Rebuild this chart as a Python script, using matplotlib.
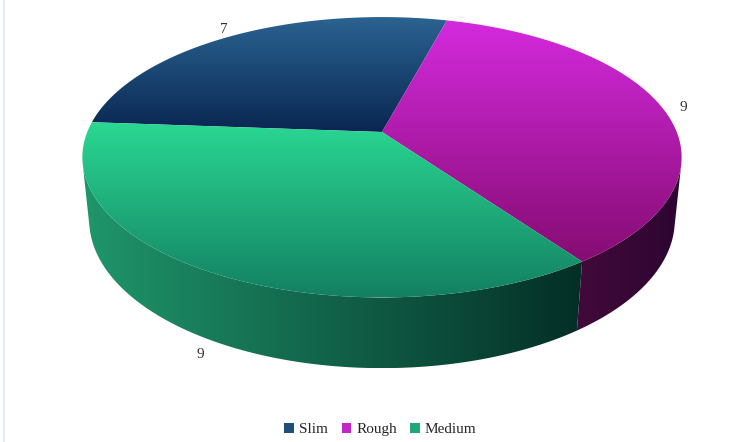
"""3D-looking pie chart of fit types (Slim / Rough / Medium)."""

import matplotlib

matplotlib.use("Agg")
import matplotlib.pyplot as plt
import numpy as np
from matplotlib.colors import to_rgb
from matplotlib.lines import Line2D
from matplotlib.patches import Patch, Polygon

categories = ["Slim", "Rough", "Medium"]
values = [7, 9, 9]
legend_colors = ["#1f4e79", "#c026c8", "#1fa877"]
top_light = ["#2b6391", "#d42ade", "#2ad893"]
top_dark = ["#0a2652", "#860c72", "#138062"]
side_light = ["#12304f", "#420a3a", "#1f966b"]
side_dark = ["#06182c", "#2c0530", "#042e26"]

# view geometry (pixels)
CX, CY = 382, 132
PHI = np.radians(27.4)
DIST = 4.93
FOC = 1453
THICK = 0.242
START = 175.8

SERIF = ["Liberation Serif", "DejaVu Serif"]


def project(theta, r=1.0, y=0.0):
    x3 = r * np.cos(theta)
    z3 = r * np.sin(theta)
    yc = y * np.cos(PHI) + z3 * np.sin(PHI)
    depth = DIST + z3 * np.cos(PHI) - y * np.sin(PHI)
    return CX + FOC * x3 / depth, CY - FOC * yc / depth


def grad_fill(ax, xs, ys, c0, c1, horizontal=False, zorder=1):
    poly = Polygon(np.column_stack([xs, ys]), closed=True,
                   facecolor="none", edgecolor="none")
    ax.add_patch(poly)
    t = np.linspace(0, 1, 256)[:, None]
    c0 = np.array(to_rgb(c0))
    c1 = np.array(to_rgb(c1))
    cols = c0 + (c1 - c0) * t
    img = cols[None, :, :] if horizontal else cols[:, None, :]
    im = ax.imshow(img, extent=(min(xs), max(xs), max(ys), min(ys)),
                   origin="upper", aspect="auto", zorder=zorder,
                   interpolation="bilinear")
    im.set_clip_path(poly)


fig = plt.figure(figsize=(7.49, 4.42), dpi=100)
ax = fig.add_axes([0, 0, 1, 1])

fracs = np.array(values) / sum(values)
bounds = [START]
for f in fracs:
    bounds.append(bounds[-1] - 360 * f)

# visible part of the side wall
lim = np.degrees(np.arcsin(1 / (DIST * np.cos(PHI))))
vis_lo, vis_hi = -180 + lim, -lim

for i in range(len(values)):
    a0, a1 = bounds[i + 1], bounds[i]
    # side wall, check the range shifted by -360 too
    for shift in (0, -360):
        lo = max(a0 + shift, vis_lo)
        hi = min(a1 + shift, vis_hi)
        if hi <= lo:
            continue
        th = np.radians(np.linspace(lo, hi, 120))
        tx, ty = project(th)
        bx, by = project(th, y=-THICK)
        xs = np.concatenate([tx, bx[::-1]])
        ys = np.concatenate([ty, by[::-1]])
        grad_fill(ax, xs, ys, side_light[i], side_dark[i],
                  horizontal=True, zorder=1)

for i in range(len(values)):
    a0, a1 = bounds[i + 1], bounds[i]
    th = np.radians(np.linspace(a0, a1, 200))
    tx, ty = project(th)
    xs = np.concatenate([[CX], tx])
    ys = np.concatenate([[CY], ty])
    grad_fill(ax, xs, ys, top_light[i], top_dark[i], zorder=2)

    mid = np.radians((a0 + a1) / 2)
    lift = 0.0 if np.sin(mid) >= 0 else -THICK
    lx, ly = project(mid, r=1.075, y=lift)
    ax.text(lx, ly, str(values[i]), ha="center", va="center",
            fontsize=11, color="#333333", family=SERIF, zorder=5)

ax.add_line(Line2D([3.5, 3.5], [0, 442], color="#dce9f1", lw=1.2))

handles = [Patch(facecolor=c, edgecolor="none") for c in legend_colors]
leg = fig.legend(handles, categories, loc="lower center", ncol=3,
                 bbox_to_anchor=(0.508, -0.018), frameon=False,
                 handlelength=0.65, handleheight=0.65, handletextpad=0.3,
                 columnspacing=0.9, prop={"family": SERIF, "size": 11})
for txt in leg.get_texts():
    txt.set_color("#262626")

ax.set_xlim(0, 749)
ax.set_ylim(442, 0)
ax.set_aspect("auto")
ax.axis("off")
fig.savefig("out.png", dpi=100)
